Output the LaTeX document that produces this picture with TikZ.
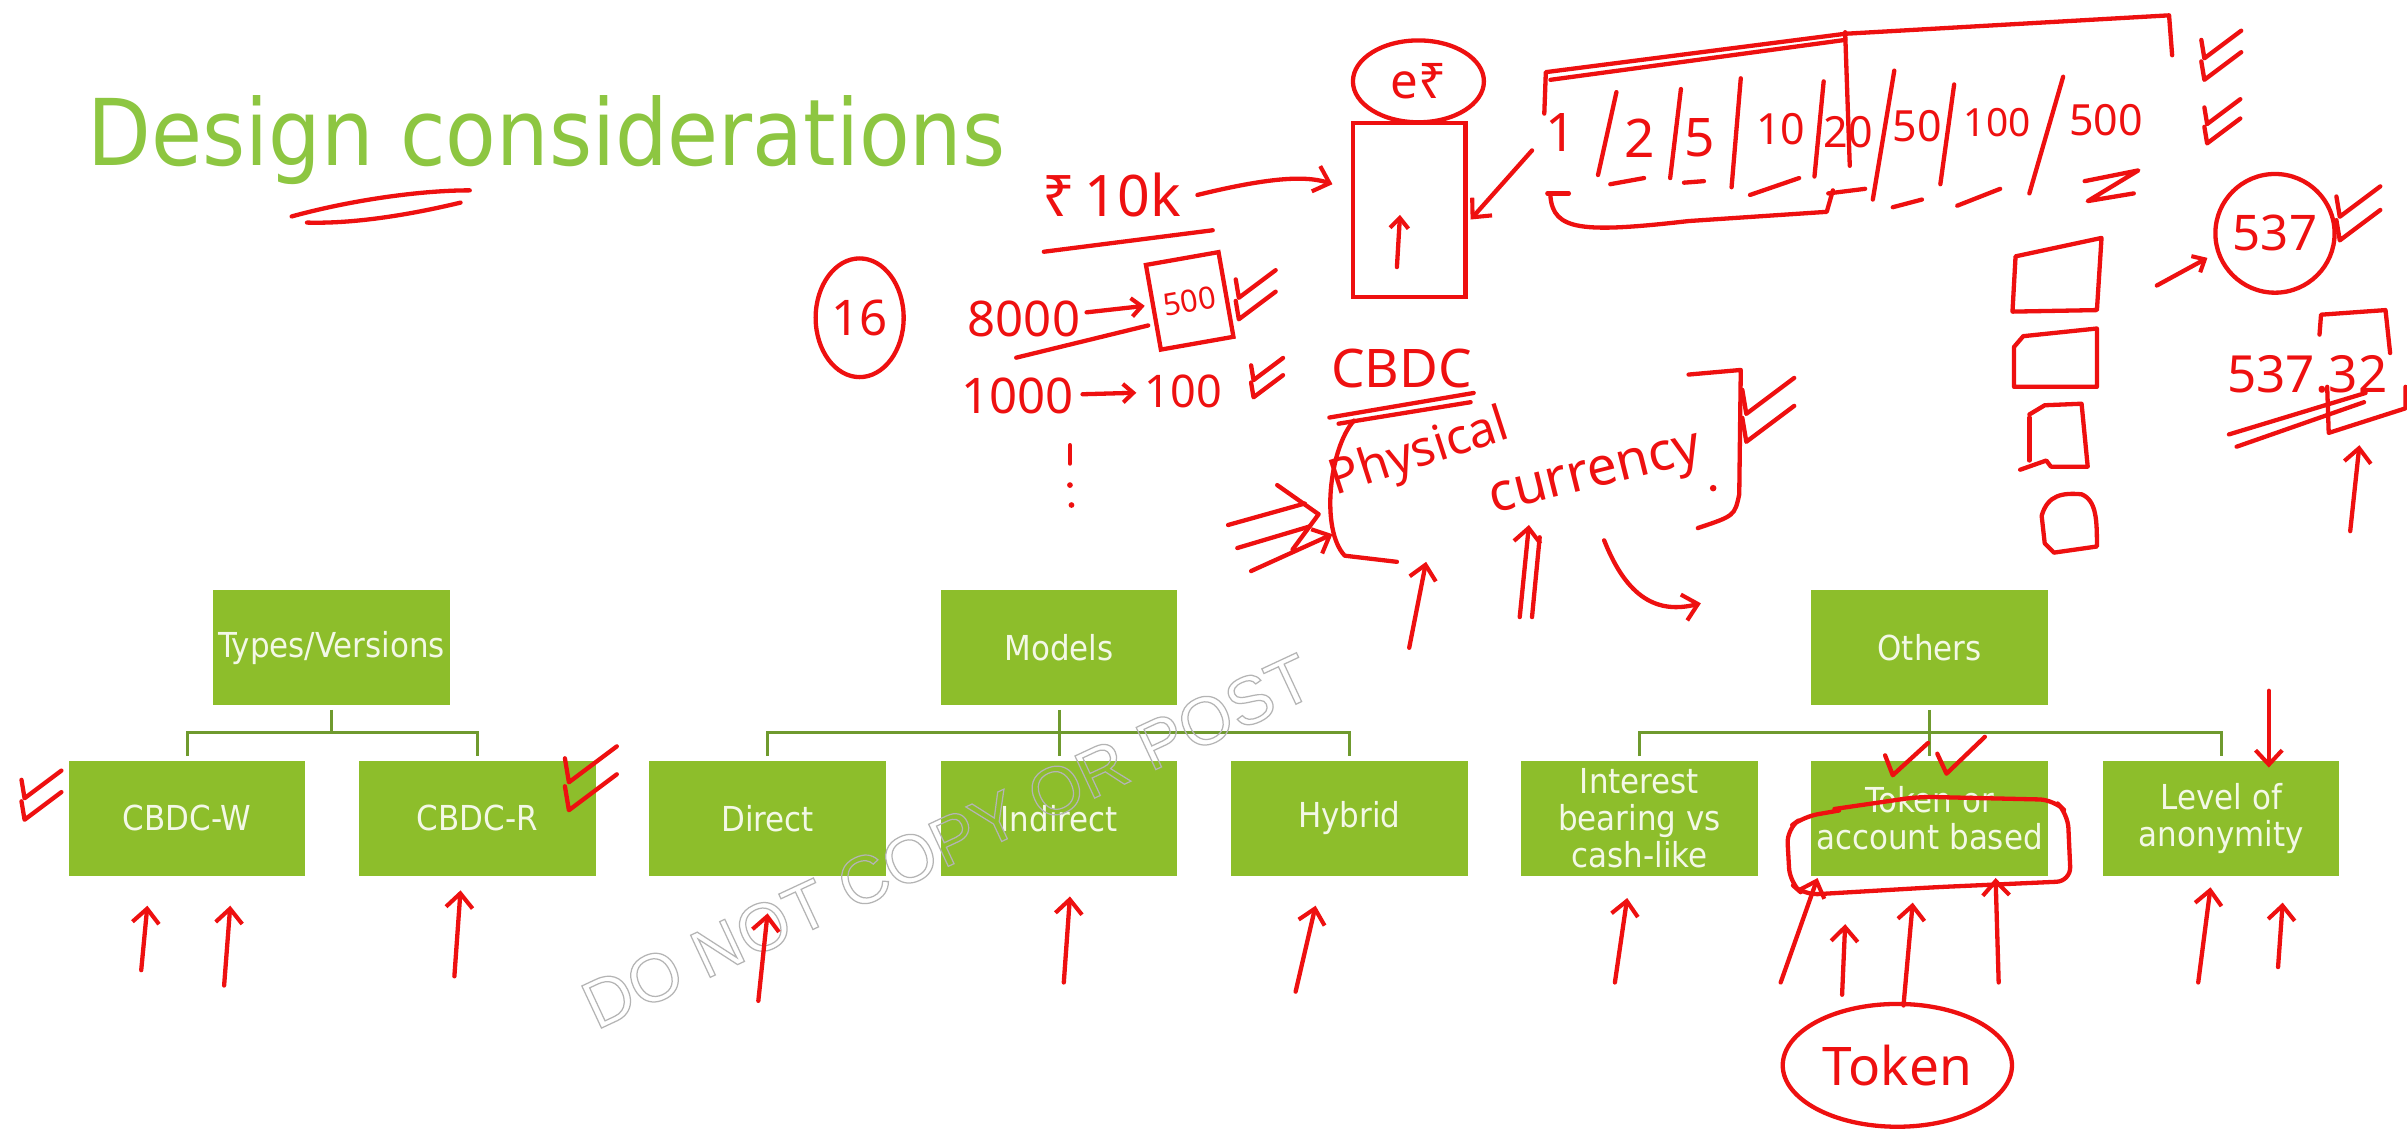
\documentclass[tikz,border=0pt]{standalone}
\usepackage{fontspec}
\usetikzlibrary{arrows.meta,shapes.geometric}
\setmainfont{DejaVu Sans Condensed}
\newfontfamily\handfont{Noto Sans}
\newfontfamily\markfont{Liberation Sans}
\definecolor{boxgreen}{HTML}{8DBE2B}
\definecolor{titlegreen}{HTML}{8DC641}
\definecolor{linkgreen}{HTML}{6F9A2E}
\definecolor{boxtext}{HTML}{F3F8E6}
\definecolor{ink}{HTML}{EE1010}
\definecolor{markgray}{HTML}{B4B4B4}
% hollow (stroked) text for the watermark
\newcommand\hollowtext[1]{\special{pdf:literal direct 0.6 w 1 Tr}#1\special{pdf:literal direct 0 Tr}}

\begin{document}
\begin{tikzpicture}[x=0.75pt,y=-0.75pt,
  gbox/.style={fill=boxgreen, text=boxtext, minimum width=115.5pt, minimum height=56.25pt,
    inner sep=0pt, align=center, font=\fontsize{16.8}{18}\selectfont},
  link/.style={draw=linkgreen, line width=1.6pt},
  hand/.style={draw=ink, line width=2.1pt, line cap=round, line join=round},
  harrow/.style={hand, -{Straight Barb[length=7pt,width=13pt,line width=2pt]}},
  sarrow/.style={hand, -{Straight Barb[length=5pt,width=9pt,line width=2pt]}},
  htext/.style={text=ink, inner sep=0pt, font=\handfont\fontsize{#1}{#1}\selectfont},
  htext/.default=24,
  ring/.style={ellipse, draw=ink, line width=2.1pt, inner sep=0pt, text=ink},
  dtick/.pic={\draw[hand] (0,0) -- (2,12) -- (26,-6);
              \draw[hand] (0,14) -- (2,26) -- (26,8);},
]
\fill[white] (0,0) rectangle (1568,738);
\useasboundingbox (0,0) rectangle (1568,738);

% ---------- title ----------
\node[anchor=base west, text=titlegreen, inner sep=0pt,
      font=\fontsize{45}{45}\selectfont] (title) at (57,108) {Design considerations};
\draw[hand] (190,141) .. controls (230,130) and (275,124) .. (306,124);
\draw[hand] (200,145) .. controls (235,146) and (275,138) .. (300,132);

% ---------- chart boxes ----------
\node[gbox] (types)    at (216,422)  {Types/Versions};
\node[gbox] (models)   at (690,422)  {Models};
\node[gbox] (others)   at (1257,422) {Others};
\node[gbox] (cbdcw)    at (122,533)  {CBDC-W};
\node[gbox] (cbdcr)    at (311,533)  {CBDC-R};
\node[gbox] (direct)   at (500,533)  {Direct};
\node[gbox] (indirect) at (690,533)  {Indirect};
\node[gbox] (hybrid)   at (879,533)  {Hybrid};
\node[gbox] (interest) at (1068,533) {Interest\\bearing vs\\cash-like};
\node[gbox] (token)    at (1257,533) {Token or\\account based};
\node[gbox] (level)    at (1447,533) {Level of\\anonymity};

% ---------- chart connectors ----------
\coordinate (ybar) at (0,477);
\draw[link] ([yshift=-2pt]types.south) -- (types.south |- ybar);
\draw[link] ([yshift=2pt]cbdcw.north) -- (cbdcw.north |- ybar) -- (cbdcr.north |- ybar) -- ([yshift=2pt]cbdcr.north);
\draw[link] ([yshift=-2pt]models.south) -- ([yshift=2pt]indirect.north);
\draw[link] ([yshift=2pt]direct.north) -- (direct.north |- ybar) -- (hybrid.north |- ybar) -- ([yshift=2pt]hybrid.north);
\draw[link] ([yshift=-2pt]others.south) -- ([yshift=2pt]token.north);
\draw[link] ([yshift=2pt]interest.north) -- (interest.north |- ybar) -- (level.north |- ybar) -- ([yshift=2pt]level.north);

% ---------- watermark ----------
\node[rotate=25, text=markgray, inner sep=0pt, font=\markfont\fontsize{33}{33}\selectfont]
  (mark) at (617,548) {\hollowtext{DO NOT COPY OR POST}};

% ---------- ink: ticks ----------
\pic at (14,508) {dtick};
\pic[scale=1.3] at (368,494) {dtick};
\pic at (805,182) {dtick};
\pic[scale=0.8] at (815,238) {dtick};
\pic[scale=1.3] at (1135,254) {dtick};
\pic[scale=1.0] at (1434,26) {dtick};
\pic[scale=0.9] at (1436,70) {dtick};
\pic[scale=1.1] at (1522,128) {dtick};
\draw[hand] (1228,492) -- (1233,505) -- (1256,484);
\draw[hand] (1262,491) -- (1268,504) -- (1293,480);
\draw[harrow] (1478,450) -- (1478,500);

% ---------- ink: arrows under the chart ----------
\draw[harrow] (92,632) -- (96,590);
\draw[harrow] (146,642) -- (150,590);
\draw[harrow] (296,636) -- (300,580);
\draw[harrow] (494,652) -- (500,595);
\draw[harrow] (693,640) -- (697,584);
\draw[harrow] (844,646) -- (857,590);
\draw[harrow] (1052,640) -- (1060,585);
\draw[harrow] (1160,640) -- (1184,572);
\draw[harrow] (1200,648) -- (1202,602);
\draw[harrow] (1240,655) -- (1246,588);
\draw[harrow] (1302,640) -- (1300,572);
\draw[harrow] (1432,640) -- (1440,578);
\draw[harrow] (1484,630) -- (1487,588);

% loop round "account based"
\draw[hand, rounded corners=7pt] (1195,527) -- (1250,519) -- (1338,521) -- (1347,530)
  -- (1349,574) -- (1260,578) -- (1175,583) -- (1166,575) -- (1164,540) -- (1175,532) -- (1198,528);
\node[ring, minimum width=112pt, minimum height=60pt,
      font=\handfont\fontsize{26}{26}\selectfont] (tokring) at (1236,694) {Token};

% ---------- ink: denomination notes ----------
\node[ring, minimum width=43pt, minimum height=58pt,
      font=\handfont\fontsize{24}{24}\selectfont] (sixteen) at (560,207) {16};
\node[htext=28] (tenk) at (724,127) {₹\,10k};
\draw[hand] (680,164) -- (790,150);
\node[draw=ink, line width=2.1pt, minimum width=55pt, minimum height=85pt, inner sep=0pt] (wallet) at (918,137) {};
\node[ring, minimum width=64pt, minimum height=40pt,
      font=\handfont\fontsize{24}{24}\selectfont] (erupee) at (924,53) {e₹};
\coordinate (tenkend) at (868,120);
\draw[harrow] ([xshift=8pt]tenk.east) .. controls (825,116) and (850,114) .. (tenkend);
\draw[sarrow] (910,174) -- (912,140);

\node[htext=24] (eightk) at (667,208) {8000};
\node[htext=15, draw=ink, line width=2.1pt, rotate=10, minimum width=36pt, minimum height=42pt] (five) at (775,196) {500};
\draw[sarrow, shorten <=3pt, shorten >=3pt] (eightk) -- (five);
\draw[hand] (662,233) -- (748,212);
\node[htext=24] (onek) at (663,258) {1000};
\node[htext=22] (hundred) at (771,255) {100};
\draw[sarrow, shorten <=4pt, shorten >=4pt] (onek) -- (hundred);
\draw[hand] (697,290) -- (697,302);
\fill[ink] (697,316) circle (1.4pt);
\fill[ink] (698,329) circle (1.4pt);

% denominations row
\node[htext=26] (d1) at (1017,86) {1};
\node[htext=26] (d2) at (1068,90) {2};
\node[htext=26] (d5) at (1107,90) {5};
\node[htext=21] (d10) at (1160,84) {10};
\node[htext=21] (d20) at (1204,86) {20};
\node[htext=21] (d50) at (1249,82) {50};
\node[htext=19] (d100) at (1301,80) {100};
\node[htext=21] (d500) at (1372,78) {500};
\draw[hand] (1053,60) -- (1041,114);
\draw[hand] (1095,58) -- (1088,116);
\draw[hand] (1134,51) -- (1128,122);
\draw[hand] (1188,53) -- (1182,115);
\draw[hand] (1234,46) -- (1220,130);
\draw[hand] (1273,55) -- (1264,120);
\draw[hand] (1344,50) -- (1322,126);
\draw[hand] (1049,120) -- (1071,116);
\draw[hand] (1097,119) -- (1110,118);
\draw[hand] (1140,127) -- (1172,116);
\draw[hand] (1191,126) -- (1215,123);
\draw[hand] (1233,135) -- (1252,130);
\draw[hand] (1275,134) -- (1303,123);
\draw[hand] (1358,118) -- (1393,111) -- (1360,131) -- (1390,126);
% brackets round the row
\draw[hand] (1006,74) -- (1007,47) -- (1202,22) -- (1413,10) -- (1415,36);
\draw[hand] (1010,52) -- (1202,26);
\draw[hand] (1202,21) -- (1205,108);
\draw[hand] (1008,126) -- (1022,126);
\draw[hand] (1010,128) .. controls (1012,150) and (1030,152) .. (1100,144) -- (1190,138) -- (1194,124);
\coordinate (rowout) at (998,98);
\coordinate (rowin) at (958,143);
\draw[harrow] (rowout) -- (rowin);

% digit boxes and rounding
\draw[hand] (1313,167) -- (1369,155) -- (1366,202) -- (1311,203) -- cycle;
\draw[hand] (1318,219) -- (1366,214) -- (1366,252) -- (1312,252) -- (1312,226) -- cycle;
\draw[hand] (1322,270) -- (1332,264) -- (1356,263) -- (1360,304) -- (1336,304) -- (1333,300) -- (1316,306);
\draw[hand] (1322,272) -- (1322,300);
\draw[hand] (1330,336) .. controls (1334,322) and (1344,321) .. (1356,322) .. controls (1366,326) and (1366,340) .. (1366,356) -- (1338,360) -- (1332,354) -- cycle;
\node[ring, minimum width=58pt, minimum height=58pt,
      font=\handfont\fontsize{24}{24}\selectfont] (fiveA) at (1482,152) {537};
\coordinate (toring) at (1438,168);
\draw[sarrow] (1405,186) -- (toring);
\node[htext=25] (fiveB) at (1503,244) {537.32};
\draw[hand] (1511,218) -- (1512,205) -- (1554,202) -- (1557,230);
\draw[hand] (1516,252) -- (1517,282) -- (1567,266) -- (1567,252);
\draw[hand] (1452,283) -- (1541,256);
\draw[hand] (1457,291) -- (1540,262);
\draw[harrow] (1531,346) -- (1537,290);

% ---------- ink: CBDC vs physical currency ----------
\node[htext=26] (cbdc) at (913,240) {CBDC};
\draw[hand] (866,272) -- (960,256);
\draw[hand] (872,276) -- (958,262);
\node[htext=24, rotate=18] (phys) at (925,296) {Physical};
\node[htext=26, rotate=14] (curr) at (1040,312) {currency};
\fill[ink] (1116,318) circle (1.6pt);
\draw[hand] (882,274) .. controls (866,292) and (860,345) .. (876,362) -- (910,366);
\draw[hand] (1100,244) -- (1134,241) -- (1133,322) .. controls (1130,336) .. (1106,344);
\draw[hand] (800,342) -- (850,328);
\draw[hand] (806,357) -- (853,343);
\draw[hand] (832,316) -- (859,335) -- (842,358);
\draw[harrow] (815,372) -- (868,348);
\draw[harrow] (918,422) -- (929,366);
\draw[hand] (998,402) -- (1003,350);
\draw[harrow] (990,402) -- (996,342);
\draw[harrow] (1045,352) .. controls (1060,390) and (1080,400) .. (1108,393);
\end{tikzpicture}
\end{document}
